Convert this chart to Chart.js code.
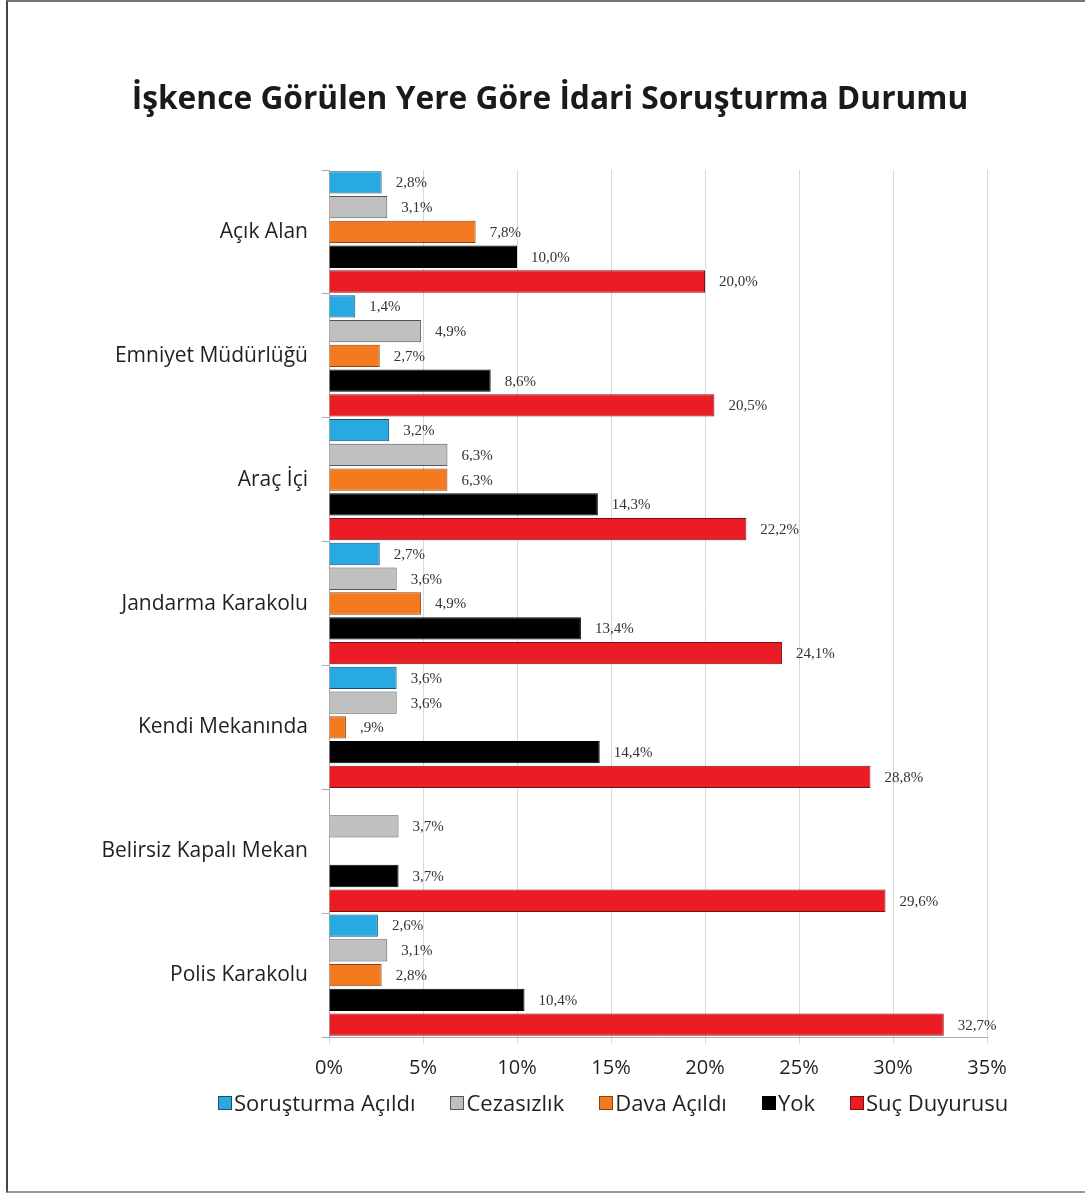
<!DOCTYPE html>
<html>
<head>
<meta charset="utf-8">
<script src="https://cdn.jsdelivr.net/npm/chart.js@4.4.1/dist/chart.umd.min.js"></script>
<style>
  html, body { margin: 0; padding: 0; background: #fff; }
  #wrap { position: absolute; left: 0; top: 0; width: 1085px; height: 1194px; }
  #frame { position: absolute; left: 6px; top: 0; width: 1079px; height: 1193px; border-left: 2px solid #444; border-top: 2px solid #777; border-bottom: 2px solid #999; box-sizing: border-box; pointer-events: none; }
  #legend { position: absolute; left: 218px; top: 1087px; height: 30px; display: flex; align-items: center; gap: 35px; font-family: "Open Sans", sans-serif; font-size: 22px; color: #231f20; white-space: nowrap; }
  #legend .item { display: flex; align-items: center; }
  #legend .box { width: 12px; height: 12px; border: 1px solid; margin-right: 2px; margin-top: 2px; }
</style>
</head>
<body>
<div id="wrap">
  <canvas id="c" width="1085" height="1194"></canvas>
  <div id="legend"></div>
  <div id="frame"></div>
</div>
<script>
const title = "İşkence Görülen Yere Göre İdari Soruşturma Durumu";
const categories = ["Açık Alan", "Emniyet Müdürlüğü", "Araç İçi", "Jandarma Karakolu", "Kendi Mekanında", "Belirsiz Kapalı Mekan", "Polis Karakolu"];
const seriesNames = ["Soruşturma Açıldı", "Cezasızlık", "Dava Açıldı", "Yok", "Suç Duyurusu"];
const sorusturma = [2.8, 1.4, 3.2, 2.7, 3.6, null, 2.6];
const cezasizlik = [3.1, 4.9, 6.3, 3.6, 3.6, 3.7, 3.1];
const davaAcildi = [7.8, 2.7, 6.3, 4.9, 0.9, null, 2.8];
const yok = [10.0, 8.6, 14.3, 13.4, 14.4, 3.7, 10.4];
const sucDuyurusu = [20.0, 20.5, 22.2, 24.1, 28.8, 29.6, 32.7];
const xTicks = [0, 5, 10, 15, 20, 25, 30, 35];

const fills = ["#29a9e1", "#c0c0c0", "#f47a20", "#000000", "#ec1c24"];
const borders = ["#1d4f6b", "#555555", "#8a4512", "#000000", "#7a1014"];
const seriesData = [sorusturma, cezasizlik, davaAcildi, yok, sucDuyurusu];

function fmt(v) {
  let s = v.toFixed(1).replace('.', ',');
  if (s.startsWith('0,')) s = s.slice(1);
  return s + '%';
}

const labelPlugin = {
  id: 'barLabels',
  afterLayout(chart) {
    // centre the title over the page as in the original
    if (chart.titleBlock) { chart.titleBlock.left = 20; chart.titleBlock.right = 1080; }
  },
  afterDatasetsDraw(chart) {
    const ctx = chart.ctx;
    ctx.save();
    ctx.font = '15px "Liberation Serif", serif';
    ctx.fillStyle = '#333';
    ctx.textAlign = 'left';
    ctx.textBaseline = 'middle';
    chart.data.datasets.forEach((ds, i) => {
      const meta = chart.getDatasetMeta(i);
      meta.data.forEach((bar, j) => {
        const v = ds.data[j];
        if (v === null || v === undefined) return;
        ctx.fillText(fmt(v), bar.x + 14, bar.y + 1);
      });
    });
    ctx.restore();
  }
};

const chart = new Chart(document.getElementById('c'), {
  type: 'bar',
  data: {
    labels: categories,
    datasets: seriesNames.map((n, i) => ({
      label: n,
      data: seriesData[i],
      backgroundColor: fills[i],
      borderColor: borders[i],
      borderWidth: 1,
      barPercentage: 0.9,
      categoryPercentage: 1.0
    }))
  },
  options: {
    indexAxis: 'y',
    responsive: false,
    animation: false,
    layout: { padding: { left: 20, right: 98, top: 0, bottom: 87 } },
    scales: {
      x: {
        min: 0, max: 35,
        afterBuildTicks(scale) { scale.ticks = xTicks.map(v => ({ value: v })); },
        afterFit(scale) { scale.height = 70; },
        ticks: { callback: v => v + '%', color: '#231f20', font: { family: '"Open Sans", sans-serif', size: 20 }, padding: 12 },
        grid: { color: '#d8d8d8', tickLength: 7, drawTicks: true },
        border: { color: '#aaa' }
      },
      y: {
        afterFit(scale) { scale.width = 309; },
        ticks: { color: '#231f20', font: { family: '"Open Sans", sans-serif', size: 21 }, padding: 14 },
        grid: { offset: true, drawOnChartArea: false, tickLength: 7, color: '#aaa' },
        border: { color: '#aaa' }
      }
    },
    plugins: {
      title: {
        display: true, text: title, color: '#1a1a1a',
        font: { family: '"Open Sans", sans-serif', size: 31.7, weight: 'bold' },
        padding: { top: 81, bottom: 51 }
      },
      legend: { display: false },
      tooltip: { enabled: false }
    }
  },
  plugins: [labelPlugin]
});

// HTML legend built from the chart's datasets
const legendEl = document.getElementById('legend');
chart.data.datasets.forEach(ds => {
  const item = document.createElement('div');
  item.className = 'item';
  const box = document.createElement('span');
  box.className = 'box';
  box.style.background = ds.backgroundColor;
  box.style.borderColor = ds.borderColor;
  const txt = document.createElement('span');
  txt.textContent = ds.label;
  item.appendChild(box);
  item.appendChild(txt);
  legendEl.appendChild(item);
});
</script>
</body>
</html>
